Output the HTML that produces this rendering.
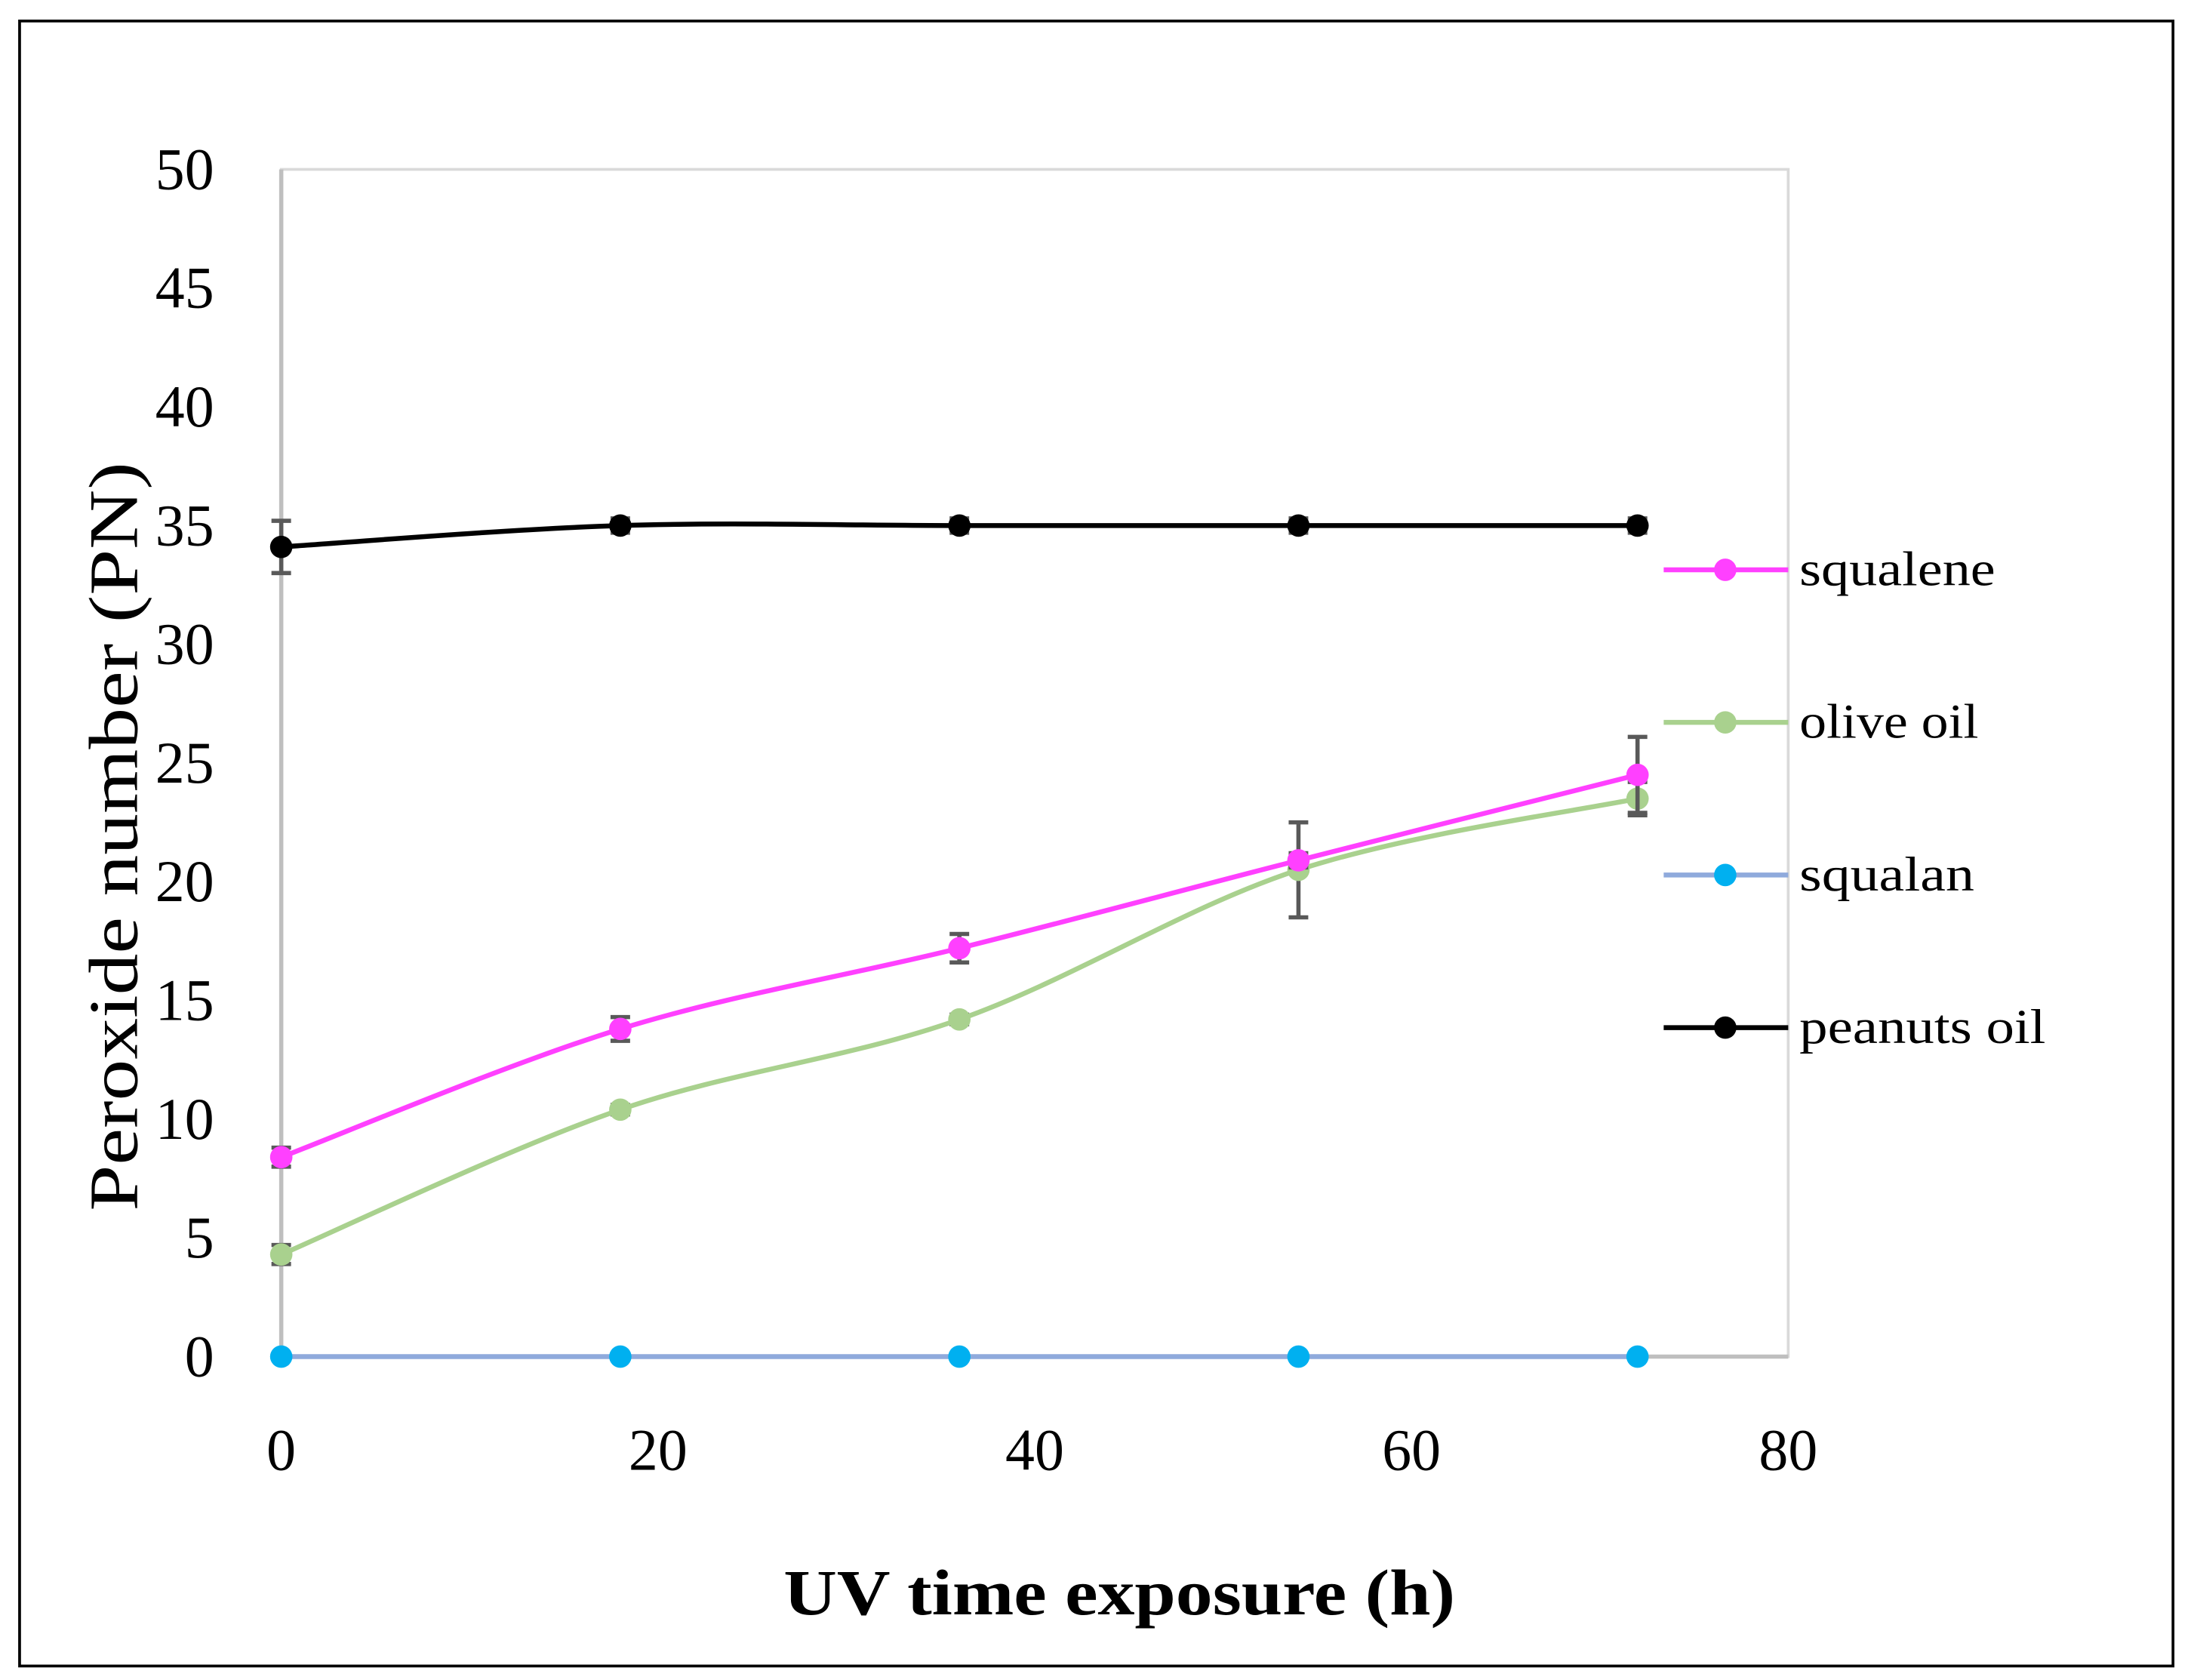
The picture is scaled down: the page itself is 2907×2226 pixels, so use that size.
<!DOCTYPE html>
<html><head><meta charset="utf-8"><style>
html,body{margin:0;padding:0;background:#fff;}
svg{display:block;}
text{font-family:"Liberation Serif",serif;}
</style></head><body>
<svg id="chart" width="2907" height="2226" viewBox="0 0 1568 1200" preserveAspectRatio="none" xmlns="http://www.w3.org/2000/svg">
<rect x="14" y="15" width="1539" height="1175" fill="#fff" stroke="#000" stroke-width="2"/>
<rect x="201" y="121" width="1077" height="848" fill="none" stroke="#d9d9d9" stroke-width="2"/>
<g id="grid"></g>
<g id="series"></g>
<text x="560" y="1153" font-size="46" font-weight="bold" textLength="480" lengthAdjust="spacingAndGlyphs">UV time exposure (h)</text>
<text transform="translate(98,865) rotate(-90)" font-size="50" textLength="535" lengthAdjust="spacingAndGlyphs">Peroxide number (PN)</text>
<g id="legend"></g>
</svg>
<script>
const xVals = [0, 18, 36, 54, 72];
const squalene = [8.4, 13.8, 17.2, 20.9, 24.5];
const squaleneErr = [0.4, 0.5, 0.6, 0.3, 1.6];
const olive = [4.3, 10.4, 14.2, 20.5, 23.5];
const oliveErr = [0.4, 0.2, 0.2, 2.0, 0.7];
const squalan = [0, 0, 0, 0, 0];
const squalanErr = [0, 0, 0, 0, 0];
const peanut = [34.1, 35, 35, 35, 35];
const peanutErr = [1.1, 0.3, 0.3, 0.3, 0.3];
const yTicks = [0, 5, 10, 15, 20, 25, 30, 35, 40, 45, 50];
const xTicks = [0, 20, 40, 60, 80];

const NS = "http://www.w3.org/2000/svg";
const X = v => 201 + v / 80 * 1077;
const Y = v => 969 - v / 50 * 848;
function mk(tag, attrs, parent) {
  const e = document.createElementNS(NS, tag);
  for (const k in attrs) e.setAttribute(k, attrs[k]);
  parent.appendChild(e);
  return e;
}
const grid = document.getElementById('grid');
const ser = document.getElementById('series');
const leg = document.getElementById('legend');

yTicks.forEach(t => {
  const tx = mk('text', {x: 153, y: Y(t) + 14, 'font-size': 42, 'text-anchor': 'end'}, grid);
  tx.textContent = t;
  
  
});
xTicks.forEach(t => {
  const tx = mk('text', {x: X(t), y: 1050, 'font-size': 42, 'text-anchor': 'middle'}, grid);
  tx.textContent = t;
  
  
});
const ax = mk('line', {x1: 201, y1: 969, x2: 1278, y2: 969, stroke: '#bfbfbf', 'stroke-width': 3}, grid);


const ay = mk('line', {x1: 201, y1: 121, x2: 201, y2: 969, stroke: '#bfbfbf', 'stroke-width': 3}, grid);



function smoothPath(vals) {
  const p = vals.map((v, i) => [X(xVals[i]), Y(v)]);
  let d = `M${p[0][0]},${p[0][1]}`;
  for (let i = 0; i < p.length - 1; i++) {
    const p0 = p[i - 1] || p[i], p1 = p[i], p2 = p[i + 1], p3 = p[i + 2] || p2;
    const c1 = [p1[0] + (p2[0] - p0[0]) / 6, p1[1] + (p2[1] - p0[1]) / 6];
    const c2 = [p2[0] - (p3[0] - p1[0]) / 6, p2[1] - (p3[1] - p1[1]) / 6];
    d += ` C${c1[0]},${c1[1]} ${c2[0]},${c2[1]} ${p2[0]},${p2[1]}`;
  }
  return d;
}
const seriesList = [
  {name: 'squalan', vals: squalan, err: squalanErr, line: '#8faadc', mark: '#00b0f0', w: 3.5},
  {name: 'olive-oil', vals: olive, err: oliveErr, line: '#a9d18e', mark: '#a9d18e', w: 3.5},
  {name: 'squalene', vals: squalene, err: squaleneErr, line: '#ff40ff', mark: '#ff40ff', w: 3.5},
  {name: 'peanuts-oil', vals: peanut, err: peanutErr, line: '#000', mark: '#000', w: 3.5}
];
seriesList.forEach(s => {
  const g = mk('g', {}, ser);
  
  
  s.vals.forEach((v, i) => {
    if (s.err[i] > 0) {
      const x = X(xVals[i]);
      const eb = mk('path', {d: `M${x},${Y(v + s.err[i])}V${Y(v - s.err[i])}M${x - 7},${Y(v + s.err[i])}H${x + 7}M${x - 7},${Y(v - s.err[i])}H${x + 7}`, stroke: '#595959', 'stroke-width': 3, fill: 'none'}, g);
      
      
    }
  });
  const ln = mk('path', {d: smoothPath(s.vals), stroke: s.line, 'stroke-width': s.w, fill: 'none'}, g);
  
  
  s.vals.forEach((v, i) => {
    const c = mk('circle', {cx: X(xVals[i]), cy: Y(v), r: 8, fill: s.mark}, g);
    
    
  });
});
const legendItems = [
  {label: 'squalene', line: '#ff40ff', mark: '#ff40ff', y: 407, len: 140},
  {label: 'olive oil', line: '#a9d18e', mark: '#a9d18e', y: 516, len: 128},
  {label: 'squalan', line: '#8faadc', mark: '#00b0f0', y: 625, len: 125},
  {label: 'peanuts oil', line: '#000', mark: '#000', y: 734, len: 176}
];
legendItems.forEach(it => {
  const g = mk('g', {}, leg);
  
  
  mk('line', {x1: 1189, y1: it.y, x2: 1278, y2: it.y, stroke: it.line, 'stroke-width': 3.5}, g);
  mk('circle', {cx: 1233, cy: it.y, r: 8, fill: it.mark}, g);
  const t = mk('text', {x: 1286, y: it.y + 11, 'font-size': 35, textLength: it.len, lengthAdjust: 'spacingAndGlyphs'}, g);
  t.textContent = it.label;
});
</script>
</body></html>
